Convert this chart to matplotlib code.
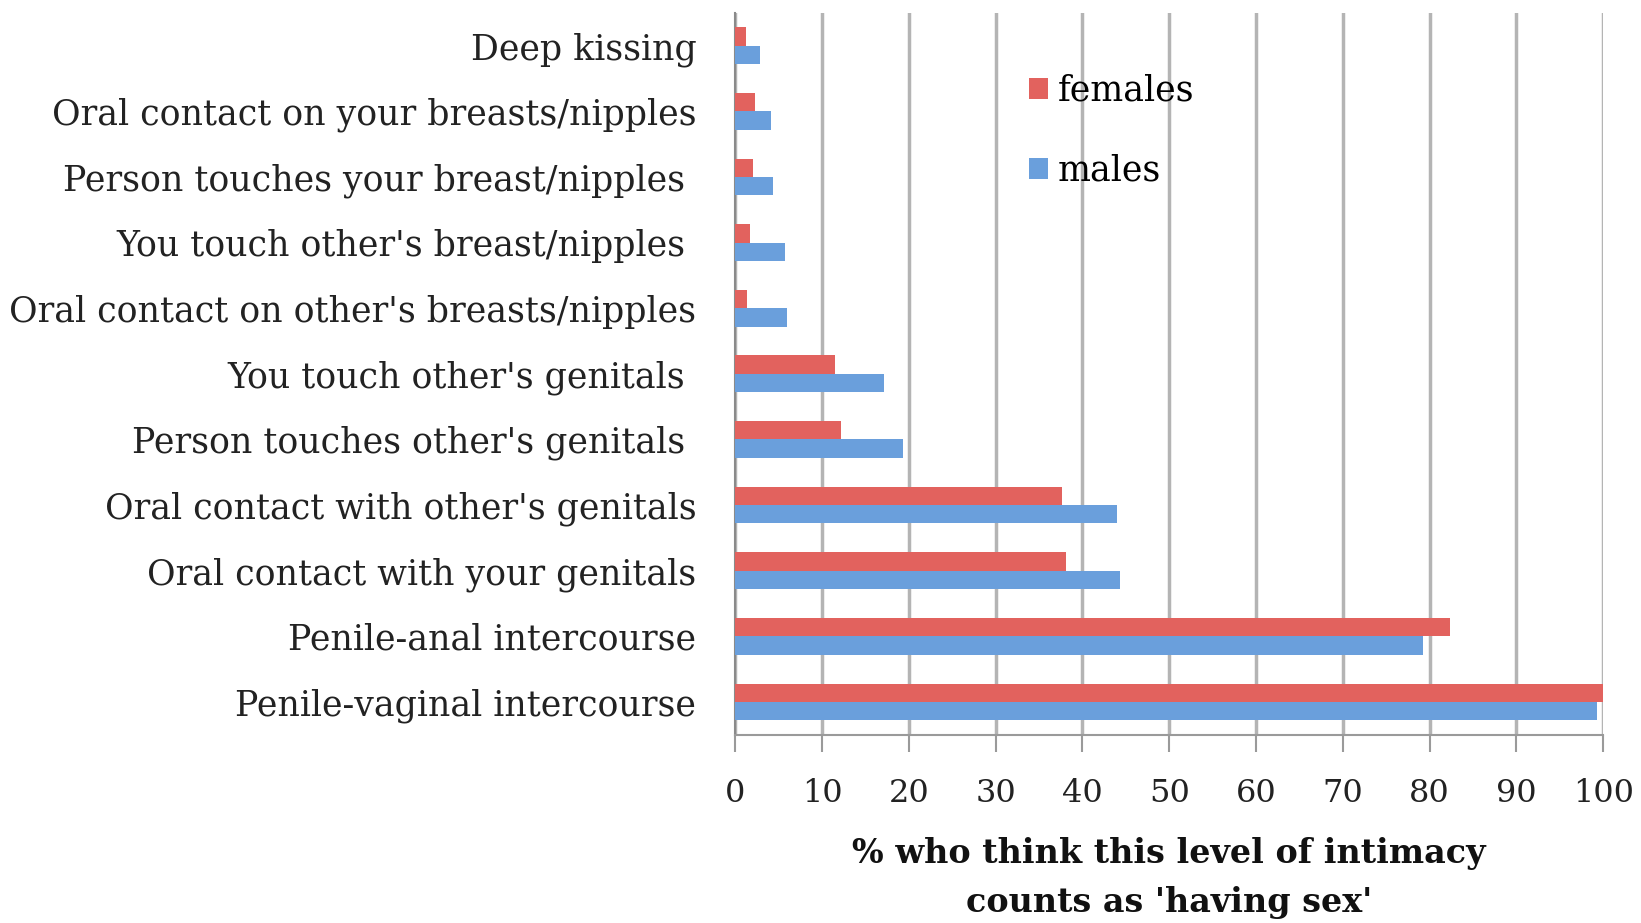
import numpy as np
import matplotlib
matplotlib.use("Agg")
import matplotlib.pyplot as plt

# categories listed top to bottom, as in the chart
categories = [
    "Deep kissing",
    "Oral contact on your breasts/nipples",
    "Person touches your breast/nipples ",
    "You touch other's breast/nipples ",
    "Oral contact on other's breasts/nipples",
    "You touch other's genitals ",
    "Person touches other's genitals ",
    "Oral contact with other's genitals",
    "Oral contact with your genitals",
    "Penile-anal intercourse",
    "Penile-vaginal intercourse",
]
females = [1.3, 2.3, 2.0, 1.7, 1.4, 11.5, 12.2, 37.6, 38.1, 82.3, 100.0]
males = [2.9, 4.1, 4.4, 5.7, 6.0, 17.1, 19.3, 44.0, 44.3, 79.2, 99.3]
xticks = list(range(0, 101, 10))

red = "#e2625e"
blue = "#6a9fdc"

plt.rcParams["font.family"] = ["DejaVu Serif"]

fig = plt.figure(figsize=(16.41, 9.23), dpi=100)
ax = fig.add_axes([0.448, 0.204, 0.529, 0.782])

y = np.arange(len(categories))
h = 0.28
ax.barh(y - h / 2, females, height=h, color=red, label="females", zorder=3)
ax.barh(y + h / 2, males, height=h, color=blue, label="males", zorder=3)

ax.set_ylim(len(categories) - 0.5, -0.5)
ax.set_xlim(0, 100)
ax.set_yticks(y)
ax.set_yticklabels(categories, fontsize=25, color="#222222")
ax.tick_params(axis="y", length=0, pad=28)
ax.set_xticks(xticks)
ax.set_xticklabels([str(t) for t in xticks], fontsize=23, color="#222222")
ax.tick_params(axis="x", length=12, width=1.5, color="#9a9a9a", pad=19)

# vertical gridlines
ax.grid(axis="x", color="#b4b4b4", linewidth=2.5, zorder=0)
ax.set_axisbelow(True)
for side in ["top", "right"]:
    ax.spines[side].set_visible(False)
ax.spines["left"].set_color("#8a8a8a")
ax.spines["left"].set_linewidth(1.5)
ax.spines["bottom"].set_color("#9a9a9a")
ax.spines["bottom"].set_linewidth(1.5)

ax.set_xlabel("% who think this level of intimacy\ncounts as 'having sex'",
              fontsize=24, fontweight="bold", color="#111111", labelpad=20,
              linespacing=1.62)

leg = ax.legend(loc="upper left", bbox_to_anchor=(0.322, 0.935), frameon=False,
                fontsize=25, handlelength=0.55, handleheight=0.55,
                handletextpad=0.3, labelspacing=1.33, borderaxespad=0)

fig.savefig("out.png", dpi=100, facecolor="white")
